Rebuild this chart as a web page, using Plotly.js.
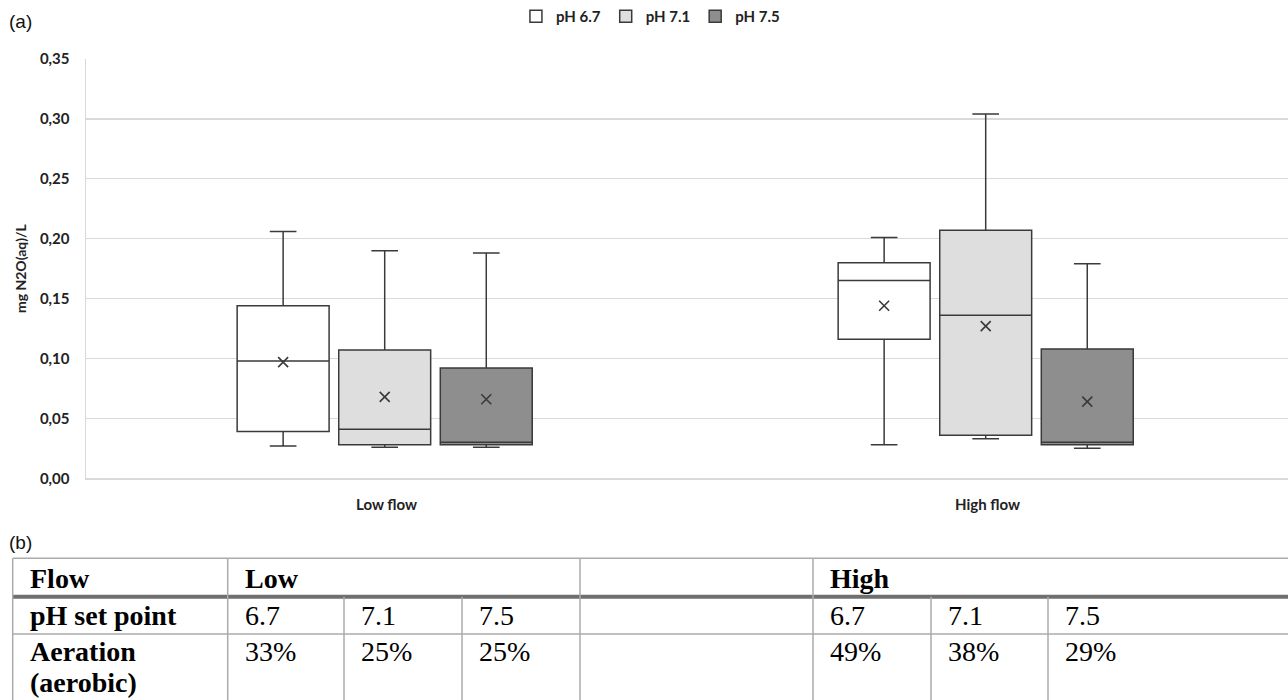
<!DOCTYPE html>
<html>
<head>
<meta charset="utf-8">
<script src="https://cdn.plot.ly/plotly-3.0.1.min.js"></script>
<style>html,body{margin:0;padding:0;background:#fff;}#chart{width:1288px;height:700px;}</style>
</head>
<body>
<div id="chart"></div>
<script>
// ---- chart data ----
var categories = ['Low flow', 'High flow'];
var seriesNames = ['pH 6.7', 'pH 7.1', 'pH 7.5'];
var seriesFill = ['#ffffff', '#dedede', '#8e8e8e'];

// per series: [Low flow, High flow]
var upperWhisker = [[0.206, 0.201], [0.190, 0.304], [0.188, 0.179]];
var q3Values     = [[0.144, 0.180], [0.107, 0.207], [0.092, 0.108]];
var medianValues = [[0.098, 0.165], [0.041, 0.136], [0.030, 0.030]];
var q1Values     = [[0.039, 0.116], [0.028, 0.036], [0.028, 0.028]];
var lowerWhisker = [[0.027, 0.028], [0.026, 0.033], [0.026, 0.025]];
var meanValues   = [[0.097, 0.144], [0.068, 0.127], [0.066, 0.064]];

var yTickValues = [0, 0.05, 0.10, 0.15, 0.20, 0.25, 0.30, 0.35];

// ---- table data ----
var rowHeaders = ['Flow', 'pH set point', 'Aeration', '(aerobic)'];
var flowLabels = ['Low', 'High'];
var phSetPoints = ['6.7', '7.1', '7.5'];
var aerationLow = ['33%', '25%', '25%'];
var aerationHigh = ['49%', '38%', '29%'];

// ---- layout helpers ----
var W = 1288, H = 700;
function px(x) { return x / W; }
function py(y) { return 1 - y / H; }
var slot = 0.169, shift = -0.003;

var traces = [];
seriesNames.forEach(function (name, k) {
  var xs = categories.map(function (c, i) { return i + (k - 1) * slot + shift; });
  traces.push({
    type: 'box', name: name, x: xs,
    q1: q1Values[k], median: medianValues[k], q3: q3Values[k],
    lowerfence: lowerWhisker[k], upperfence: upperWhisker[k],
    width: 0.153, whiskerwidth: 0.29, boxpoints: false,
    fillcolor: seriesFill[k],
    line: { color: '#3a3a3a', width: 1.5 },
    hoverinfo: 'skip'
  });
  traces.push({
    type: 'scatter', mode: 'markers', x: xs, y: meanValues[k], showlegend: false,
    marker: { symbol: 'x-thin', size: 10, line: { width: 1.6, color: '#3a3a3a' }, color: '#3a3a3a' },
    hoverinfo: 'skip'
  });
});

// table geometry (pixels)
var colX = [12.7, 227.7, 344, 462, 580, 813, 931, 1048, 1300];
var rowY = [558, 596.7, 634, 705];
var shapes = [];
var gridColor = '#ababab';
function hline(x0, x1, y, w, c) { shapes.push({ type: 'line', xref: 'paper', yref: 'paper', x0: px(x0), x1: px(x1), y0: py(y), y1: py(y), line: { color: c, width: w } }); }
function vline(x, y0, y1) { shapes.push({ type: 'line', xref: 'paper', yref: 'paper', x0: px(x), x1: px(x), y0: py(y0), y1: py(y1), line: { color: gridColor, width: 1.5 } }); }
hline(colX[0], W + 5, rowY[0], 1.5, gridColor);
hline(colX[0], W + 5, rowY[1], 4, '#6f6f6f');
hline(colX[0], W + 5, rowY[2], 1.5, gridColor);
[0, 1, 4, 5].forEach(function (i) { vline(colX[i], rowY[0], rowY[3]); });
[2, 3, 6, 7].forEach(function (i) { vline(colX[i], rowY[1], rowY[3]); });

var annotations = [];
var serif = 'Liberation Serif, Times New Roman, serif';
var tSize = 28;
function cell(text, x, baseline, bold) {
  annotations.push({
    xref: 'paper', yref: 'paper', x: px(x + 15), y: py(baseline - 0.3 * tSize),
    xanchor: 'left', yanchor: 'middle', showarrow: false,
    text: bold ? '<b>' + text + '</b>' : text,
    font: { family: serif, size: tSize, color: '#000' }
  });
}
var baselines = [587, 624, 660, 691];
cell(rowHeaders[0], colX[0], baselines[0], true);
cell(rowHeaders[1], colX[0], baselines[1], true);
cell(rowHeaders[2], colX[0], baselines[2], true);
cell(rowHeaders[3], colX[0], baselines[3], true);
cell(flowLabels[0], colX[1], baselines[0], true);
cell(flowLabels[1], colX[5], baselines[0], true);
phSetPoints.forEach(function (p, j) {
  cell(p, colX[1 + j], baselines[1], false);
  cell(p, colX[5 + j], baselines[1], false);
  cell(aerationLow[j], colX[1 + j], baselines[2], false);
  cell(aerationHigh[j], colX[5 + j], baselines[2], false);
});

// panel labels
annotations.push({ xref: 'paper', yref: 'paper', x: px(7), y: py(21), xanchor: 'left', yanchor: 'middle', showarrow: false, text: '(a)', font: { family: 'Liberation Sans, Arial, sans-serif', size: 19, color: '#111' } });
annotations.push({ xref: 'paper', yref: 'paper', x: px(7), y: py(542), xanchor: 'left', yanchor: 'middle', showarrow: false, text: '(b)', font: { family: 'Liberation Sans, Arial, sans-serif', size: 19, color: '#111' } });

var chartFont = 'Lato, Open Sans, sans-serif';
var layout = {
  width: W, height: H,
  margin: { l: 0, r: 0, t: 0, b: 0, pad: 0 },
  paper_bgcolor: '#ffffff', plot_bgcolor: '#ffffff',
  showlegend: true,
  legend: {
    orientation: 'h', x: 0.505, xanchor: 'center', y: py(16), yanchor: 'middle',
    font: { family: chartFont, size: 15, color: '#222', weight: 'bold' },
    itemwidth: 30, tracegroupgap: 0, bgcolor: 'rgba(0,0,0,0)'
  },
  xaxis: {
    domain: [px(86), 1], range: [-0.5, 1.5], anchor: 'y',
    tickvals: [0, 1], ticktext: categories.map(function (c) { return '<b>' + c + '</b>'; }),
    showgrid: false, zeroline: false, showline: true, linecolor: '#d9d9d9', linewidth: 1.5,
    ticks: '', ticklabelstandoff: 12, automargin: false,
    tickfont: { family: chartFont, size: 15, color: '#222' }
  },
  yaxis: {
    domain: [py(478), py(58)], range: [0, 0.35], anchor: 'x',
    tickvals: yTickValues, tickformat: '.2f',
    showgrid: true, gridcolor: '#d9d9d9', gridwidth: 1.5,
    zeroline: false, showline: true, linecolor: '#d9d9d9', linewidth: 1.5,
    ticks: '', ticklabelstandoff: 12, automargin: false,
    tickfont: { family: chartFont, size: 15, color: '#222', weight: 'bold' },
    title: { text: '<b>mg N2O(aq)/L</b>', font: { family: chartFont, size: 14, color: '#222' }, standoff: 10 }
  },
  separators: ',.',
  shapes: shapes,
  annotations: annotations
};

Plotly.newPlot('chart', traces, layout, { displayModeBar: false, staticPlot: true });
</script>
</body>
</html>
